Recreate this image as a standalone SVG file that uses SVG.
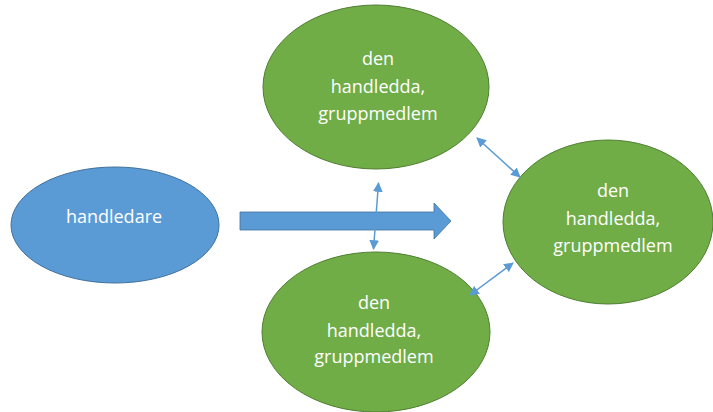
<svg xmlns="http://www.w3.org/2000/svg" width="713" height="412" viewBox="0 0 713 412">
<defs>
<style>
.blue{fill:#5B9BD5;stroke:#41719C;stroke-width:1}
.green{fill:#70AD47;stroke:#507E32;stroke-width:1}
.t{fill:#fff;font-family:"Open Sans","Liberation Sans",sans-serif;font-size:18px;text-anchor:middle}
.dbl{stroke:#5B9BD5;stroke-width:1.5;fill:none;marker-start:url(#ah);marker-end:url(#ah)}
</style>
<marker id="ah" viewBox="0 0 10 10" refX="9" refY="5" markerWidth="6.5" markerHeight="6.5" orient="auto-start-reverse" markerUnits="strokeWidth">
<path d="M0,0 L10,5 L0,10 z" fill="#5B9BD5"/>
</marker>
</defs>
<rect width="713" height="412" fill="#fff"/>
<g id="handledare">
<ellipse class="blue" cx="115" cy="225" rx="104" ry="58"/>
<text class="t" x="114" y="223">handledare</text>
</g>
<g id="member-top">
<ellipse class="green" cx="376" cy="87" rx="113" ry="82"/>
<text class="t" x="378" y="65">den</text>
<text class="t" x="378" y="93">handledda,</text>
<text class="t" x="378" y="120">gruppmedlem</text>
</g>
<g id="member-right">
<ellipse class="green" cx="608" cy="222" rx="105" ry="82"/>
<text class="t" x="613" y="197">den</text>
<text class="t" x="613" y="225">handledda,</text>
<text class="t" x="613" y="252">gruppmedlem</text>
</g>
<g id="member-bottom">
<ellipse class="green" cx="376" cy="332" rx="114" ry="80"/>
<text class="t" x="374" y="309">den</text>
<text class="t" x="374" y="337">handledda,</text>
<text class="t" x="374" y="363">gruppmedlem</text>
</g>
<g id="connectors">
<path d="M240,212 L434,212 L434,203 L451,221 L434,239 L434,230 L240,230 Z" fill="#5B9BD5" stroke="#41719C" stroke-width="0.8"/>
<line class="dbl" x1="378.5" y1="183" x2="373.5" y2="249"/>
<line class="dbl" x1="477" y1="138" x2="520" y2="177"/>
<line class="dbl" x1="513" y1="263" x2="470" y2="295"/>
</g>
</svg>
